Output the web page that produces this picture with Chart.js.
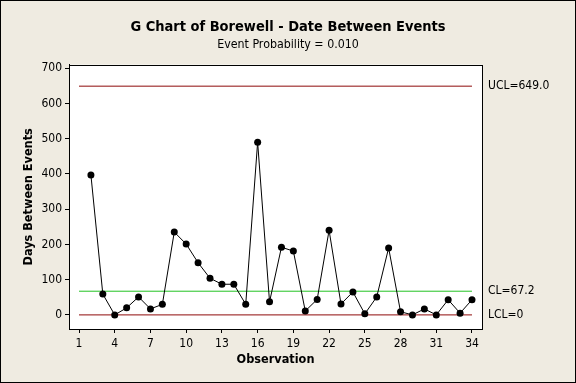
<!DOCTYPE html>
<html><head><meta charset="utf-8">
<script src="https://cdn.jsdelivr.net/npm/chart.js@4.4.1/dist/chart.umd.min.js"></script>
<style>html,body{margin:0;padding:0;background:#EFEBE1;} #wrap{width:576px;height:383px;position:relative}</style>
</head><body><div id="wrap"><canvas id="c" width="576" height="383"></canvas></div>
<script>
const observations = [2,3,4,5,6,7,8,9,10,11,12,13,14,15,16,17,18,19,20,21,22,23,24,25,26,27,28,29,30,31,32,33,34];
const daysBetween = [397,59,0,20,51,17,30,235,201,148,104,87,87,30,490,37,192,181,11,44,240,31,65,3,51,190,9,0,17,0,43,5,43];
const xTickValues = [1,4,7,10,13,16,19,22,25,28,31,34];
const yTickValues = [0,100,200,300,400,500,600,700];
const limitNames = ['UCL','CL','LCL'];
const limitValues = [649.0, 67.2, 0];
const limitLabels = ['UCL=649.0','CL=67.2','LCL=0'];
const limitColors = ['#8E0A0A','#22C222','#8E0A0A'];
const limitSpan = [1, 34];

const FONT = '"DejaVu Sans Condensed", "DejaVu Sans", sans-serif';
const BG = '#EFEBE1';
const Y_MIN = -40, Y_MAX = 710;

const limitDatasets = limitNames.map((n, i) => ({
  label: n,
  data: limitSpan.map(x => ({x: x, y: limitValues[i]})),
  borderColor: limitColors[i],
  borderWidth: 1,
  pointRadius: 0,
  showLine: true,
  fill: false
}));

const decor = {
  id: 'decor',
  beforeDraw(chart) {
    const {ctx, chartArea: a, width, height} = chart;
    ctx.save();
    ctx.fillStyle = BG; ctx.fillRect(0, 0, width, height);
    ctx.fillStyle = '#FFFFFF'; ctx.fillRect(a.left, a.top, a.right - a.left, a.bottom - a.top);
    ctx.restore();
  },
  afterDraw(chart) {
    const {ctx, chartArea: a, width, height} = chart;
    ctx.save();
    ctx.strokeStyle = '#000'; ctx.lineWidth = 1;
    ctx.strokeRect(Math.round(a.left) + 0.5, Math.round(a.top) + 0.5, Math.round(a.right - a.left), Math.round(a.bottom - a.top));
    ctx.strokeRect(0.5, 0.5, width - 1, height - 1);
    ctx.restore();
  }
};

new Chart(document.getElementById('c'), {
  type: 'scatter',
  data: {
    datasets: [{
      label: 'Days Between Events',
      data: observations.map((o, i) => ({x: o, y: daysBetween[i]})),
      showLine: true,
      borderColor: '#000', borderWidth: 1,
      pointRadius: 3.5, pointBackgroundColor: '#000', pointBorderColor: '#000', pointBorderWidth: 0
    }].concat(limitDatasets)
  },
  options: {
    responsive: false, devicePixelRatio: 1, animation: false,
    layout: {padding: {left: 0, right: 0, top: 0, bottom: 0}},
    plugins: {
      legend: {display: false}, tooltip: {enabled: false},
      title: {display: true, text: 'G Chart of Borewell - Date Between Events', color: '#000',
        font: {family: FONT, size: 14.5, weight: 'bold', lineHeight: 1.2}, padding: {top: 19, bottom: 1}},
      subtitle: {display: true, text: 'Event Probability = 0.010', color: '#000',
        font: {family: FONT, size: 12.3, lineHeight: 1.2}, padding: {top: 0, bottom: 12.5}}
    },
    scales: {
      x: {
        type: 'linear', min: 0.16, max: 34.84,
        afterBuildTicks: s => { s.ticks = xTickValues.map(v => ({value: v})); },
        afterFit: s => { s.height = 54; },
        ticks: {autoSkip: false, maxRotation: 0, color: '#000', font: {family: FONT, size: 12}, padding: 4},
        grid: {drawOnChartArea: false, drawTicks: true, tickLength: 4, color: '#000'},
        border: {display: true, color: '#000'},
        title: {display: true, text: 'Observation', color: '#000', font: {family: FONT, size: 12.6, weight: 'bold', lineHeight: 1.2}, padding: {top: 0, bottom: 16}}
      },
      y: {
        type: 'linear', min: Y_MIN, max: Y_MAX,
        afterBuildTicks: s => { s.ticks = yTickValues.map(v => ({value: v})); },
        afterFit: s => { s.width = 69; },
        ticks: {color: '#000', font: {family: FONT, size: 12}, padding: 3},
        grid: {drawOnChartArea: false, drawTicks: true, tickLength: 4, color: '#000'},
        border: {display: true, color: '#000'},
        title: {display: true, text: 'Days Between Events', color: '#000', font: {family: FONT, size: 12.6, weight: 'bold', lineHeight: 1.2}, padding: {top: 21, bottom: 0}}
      },
      yLimits: {
        type: 'linear', position: 'right', min: Y_MIN, max: Y_MAX,
        afterBuildTicks: s => { s.ticks = limitValues.map(v => ({value: v})); },
        afterFit: s => { s.width = 94; },
        ticks: {color: '#000', font: {family: FONT, size: 12}, padding: 6,
          callback: (v, i) => limitLabels[i]},
        grid: {display: false, drawTicks: false},
        border: {display: false}
      }
    }
  },
  plugins: [decor]
});
</script></body></html>
